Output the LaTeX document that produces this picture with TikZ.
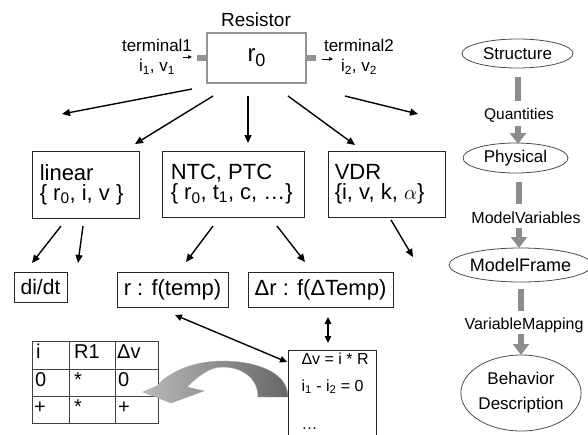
\documentclass[tikz,border=0pt]{standalone}
\usepackage{fontspec}
\setmainfont{Liberation Sans}
\usetikzlibrary{arrows.meta,shapes.geometric}
\begin{document}
\begin{tikzpicture}[x=1pt,y=-1pt,
  box/.style={draw=black!85, line width=0.9pt, rectangle, inner sep=0pt},
  arr/.style={line width=1.4pt, -{Triangle[length=8pt,width=7pt]}},
  darr/.style={line width=1.4pt, {Triangle[length=7pt,width=6.5pt]}-{Triangle[length=7pt,width=6.5pt]}},
  tarr/.style={line width=0.7pt, -{Triangle[length=4pt,width=3.5pt]}},
  ell/.style={draw=black!70, ellipse, line width=0.8pt, inner sep=0pt},
  gbar/.style={line width=6pt, draw=gray!90},
  garr/.style={line width=6pt, draw=gray!90, -{Triangle[length=11pt,width=16pt]}},
  big/.style={font=\fontsize{22}{20}\selectfont},
  mid/.style={font=\fontsize{17}{20}\selectfont},
  sml/.style={font=\fontsize{16}{19}\selectfont},
  btext/.style={big, align=left, anchor=west, inner sep=0pt}
]
\useasboundingbox (0,0) rectangle (588,434);

% ---------- Resistor ----------
\node[font=\fontsize{19}{19}\selectfont] (restitle) at (256,20) {Resistor};
\node[draw=gray!85, line width=2pt, minimum width=99, minimum height=50, inner sep=0pt,
      font=\fontsize{24}{24}\selectfont] (res) at (256.5,58) {r\raisebox{-5pt}{\fontsize{18}{18}\selectfont 0}};
\fill[gray!85] (197,55) rectangle (207,61);
\fill[gray!85] (306,55) rectangle (316,61);
\node[mid, align=center] (t1) at (157,57) {terminal1\\i\textsubscript{1}, v\textsubscript{1}};
\node[mid, align=center] (t2) at (359,57) {terminal2\\i\textsubscript{2}, v\textsubscript{2}};
\coordinate (t1a) at (183,57); \coordinate (t1b) at (192,57);
\coordinate (t2a) at (322,59); \coordinate (t2b) at (333,59);
\draw[tarr] (t1a) -- (t1b);
\draw[tarr] (t2a) -- (t2b);

% ---------- first level arrows ----------
\coordinate (s1) at (192,89);  \coordinate (e1) at (62,114);
\coordinate (s2) at (213,96);  \coordinate (e2) at (135,144);
\coordinate (s3) at (248,96);  \coordinate (e3) at (248,143);
\coordinate (s4) at (288,96);  \coordinate (e4) at (355,145);
\coordinate (s5) at (345,96);  \coordinate (e5) at (418,114);
\draw[arr] (s1) -- (e1);
\draw[arr] (s2) -- (e2);
\draw[arr] (s3) -- (e3);
\draw[arr] (s4) -- (e4);
\draw[arr] (s5) -- (e5);

% ---------- second level boxes ----------
\node[box, minimum width=107, minimum height=67] (lin) at (85.5,184.5) {};
\node[btext] (linT) at ([xshift=8pt]lin.west) {linear\\\{ r\textsubscript{0}, i, v \}};
\node[box, minimum width=142, minimum height=66] (ntc) at (233,184) {};
\node[btext] (ntcT) at ([xshift=9pt]ntc.west) {NTC, PTC\\\{ r\textsubscript{0}, t\textsubscript{1}, c, \ldots\}};
\node[box, minimum width=117, minimum height=66] (vdr) at (386.5,184) {};
\node[btext] (vdrT) at ([xshift=7pt]vdr.west) {VDR\\\{i, v, k, $\alpha$\}};

% ---------- second level arrows ----------
\coordinate (a1) at (61,226);  \coordinate (b1) at (32,263);
\coordinate (a2) at (83,226);  \coordinate (b2) at (78,263);
\coordinate (a3) at (213,226); \coordinate (b3) at (186,262);
\coordinate (a4) at (277,226); \coordinate (b4) at (305,262);
\coordinate (a5) at (391,220); \coordinate (b5) at (413,257);
\draw[arr] (a1) -- (b1);
\draw[arr] (a2) -- (b2);
\draw[arr] (a3) -- (b3);
\draw[arr] (a4) -- (b4);
\draw[arr] (a5) -- (b5);

% ---------- third level boxes ----------
\node[box, font=\fontsize{21}{21}\selectfont, minimum width=53, minimum height=30] (didt) at (40.5,287) {di/dt};
\node[box, big, minimum width=111, minimum height=35] (rt) at (172.5,289.5) {r : f(temp)};
\node[box, big, minimum width=145, minimum height=35] (drt) at (320.5,289.5) {Δr : f(ΔTemp)};

% ---------- equation box ----------
\node[box, minimum width=88, minimum height=100, anchor=north west] (eq) at (288,350) {};
\node[sml, anchor=base west] (eq1) at (298,364) {Δv = i * R};
\node[sml, anchor=base west] (eq2) at (298,391) {i\textsubscript{1} - i\textsubscript{2} = 0};
\node[sml, anchor=base west] (eq3) at (298,429) {\ldots};

\coordinate (d1a) at (175,315); \coordinate (d1b) at (287,362);
\coordinate (d2a) at (328,317); \coordinate (d2b) at (328,343);
\draw[darr] (d1a) -- (d1b);
\draw[darr] (d2a) -- (d2b);

% ---------- table ----------
\draw[line width=0.8pt, black!75] (32,341) rectangle (158,423);
\draw[line width=0.8pt, black!75] (32,369) -- (158,369) (32,396) -- (158,396)
  (69,341) -- (69,423) (115,341) -- (115,423);
\begin{scope}[every node/.style={font=\fontsize{20}{20}\selectfont, anchor=base west, inner sep=0pt}]
\node (c11) at (36,358) {i};
\node (c12) at (74,358) {R1};
\node (c13) at (117,358) {Δv};
\node (c21) at (35,386) {0};
\node (c22) at (74,386) {*};
\node (c23) at (118,386) {0};
\node (c31) at (34,413) {+};
\node (c32) at (74,413) {*};
\node (c33) at (118,413) {+};
\end{scope}

% ---------- curved grey arrow ----------
\shade[left color=gray!55, right color=black!60, draw=gray!70, line width=0.4pt]
  (288,397) .. controls (288,372) and (256,361) .. (222,361)
  .. controls (195,361) and (170,371) .. (157,386)
  -- (143,392) -- (171,403) -- (204,391) -- (187,387)
  .. controls (198,376) and (210,367) .. (222,367)
  .. controls (242,367) and (258,378) .. (258,397) -- cycle;

% ---------- right column ----------
\node[ell, font=\fontsize{17}{17}\selectfont, minimum width=111, minimum height=29] (st) at (517.5,53.5) {Structure};
\node[ell, font=\fontsize{17}{17}\selectfont, minimum width=105, minimum height=30] (ph) at (515.5,158) {Physical};
\node[ell, font=\fontsize{18}{18}\selectfont, minimum width=115, minimum height=34] (mf) at (520.5,265) {ModelFrame};
\node[ell, font=\fontsize{17}{25}\selectfont, align=center, minimum width=112, minimum height=76] (bd) at (521,393) {Behavior\\Description};

\node[font=\fontsize{15.5}{15.5}\selectfont] (q1) at (519,115) {Quantities};
\node[font=\fontsize{16}{16}\selectfont] (q2) at (526,218) {ModelVariables};
\node[font=\fontsize{16}{16}\selectfont] (q3) at (524,325) {VariableMapping};

\coordinate (g1a) at (518,77);  \coordinate (g1b) at (518,101);
\coordinate (h1a) at (518,126); \coordinate (h1b) at (518,144);
\coordinate (g2a) at (519,182); \coordinate (g2b) at (519,204);
\coordinate (h2a) at (519,228); \coordinate (h2b) at (519,248);
\coordinate (g3a) at (521,289); \coordinate (g3b) at (521,311);
\coordinate (h3a) at (521,334); \coordinate (h3b) at (521,355);
\draw[gbar] (g1a) -- (g1b);
\draw[garr] (h1a) -- (h1b);
\draw[gbar] (g2a) -- (g2b);
\draw[garr] (h2a) -- (h2b);
\draw[gbar] (g3a) -- (g3b);
\draw[garr] (h3a) -- (h3b);
\end{tikzpicture}
\end{document}
